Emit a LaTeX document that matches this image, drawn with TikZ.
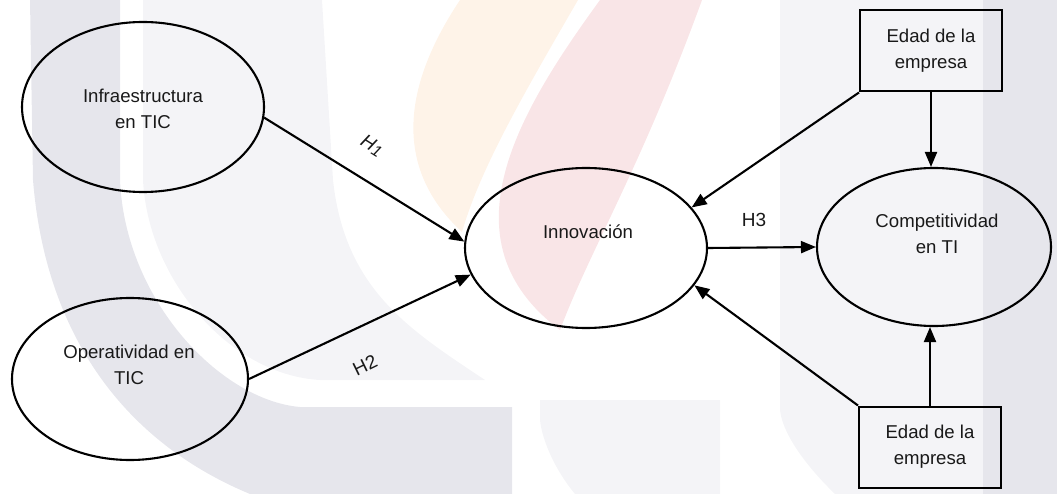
\documentclass[tikz,border=0pt]{standalone}
\usepackage{fontspec}
\setmainfont{Liberation Sans}
\usetikzlibrary{shapes.geometric,arrows.meta,calc}
\definecolor{wmdark}{HTML}{E6E6EC}
\definecolor{wmpale}{HTML}{F4F4F7}
\definecolor{wmorange}{HTML}{FEF3E8}
\definecolor{wmpink}{HTML}{F9E5E7}
\begin{document}
\begin{tikzpicture}[x=1pt,y=-1pt,
  txt/.style={font=\fontsize{18.6}{26}\selectfont, align=center, inner sep=0pt, text=black!90},
  ell/.style={ellipse, draw, line width=2.1pt, inner sep=0pt},
  boxn/.style={rectangle, draw, line width=2pt, txt, minimum width=142pt, minimum height=81pt},
  arr/.style={line width=2.1pt, -{Triangle[length=15pt,width=12pt]}},
  lab/.style={font=\fontsize{19}{21}\selectfont, inner sep=0pt, text=black!90}]
\useasboundingbox (0,0) rectangle (1057,494);
% watermark
\fill[wmpale] (143,0) -- (143,180) .. controls (148,280) and (230,375) .. (320,380) -- (485,380)
  .. controls (410,330) and (345,290) .. (333,180) -- (322,0) -- cycle;
\fill[wmdark] (30,0) -- (120,0) -- (120,180) .. controls (125,300) and (220,400) .. (300,407)
  -- (512,407) -- (512,494) -- (250,494) .. controls (120,440) and (45,330) .. (33,180) -- cycle;
\fill[wmorange] (460,0) .. controls (400,90) and (395,170) .. (462,232)
  .. controls (480,170) and (520,100) .. (578,0) -- cycle;
\fill[wmpink] (600,0) .. controls (520,110) and (440,240) .. (560,330)
  .. controls (590,250) and (640,170) .. (702,0) -- cycle;
\fill[wmpale] (540,400) -- (720,400) -- (720,494) -- (575,494) .. controls (555,470) and (542,440) .. (540,420) -- cycle;
\fill[wmpale] (780,0) -- (983,0) -- (983,494) -- (835,494) .. controls (800,460) and (782,430) .. (780,410) -- cycle;
\fill[wmdark] (983,0) rectangle (1057,494);
% nodes
\node[ell, minimum width=242pt, minimum height=170pt] (infra) at (143,107) {};
\node[txt] (infraT) at (143,109) {Infraestructura\\en TIC};
\node[ell, minimum width=236pt, minimum height=162pt] (oper) at (130,379) {};
\node[txt] (operT) at (129,365) {Operatividad en\\TIC};
\node[ell, minimum width=242pt, minimum height=160pt] (innov) at (586,248) {};
\node[txt] (innovT) at (588,232) {Innovación};
\node[ell, minimum width=234pt, minimum height=158pt] (comp) at (934,247) {};
\node[txt] (compT) at (937,234) {Competitividad\\en TI};
\node[boxn] (box1) at (931,51) {Edad de la\\empresa};
\node[boxn] (box2) at (930,447) {Edad de la\\empresa};
% connectors
\draw[arr] (infra.-5) -- (innov.177);
\draw[arr] (oper.east) -- (innov.-167);
\draw[arr] (innov.east) -- (comp.west);
\draw[arr] (box1.south west) -- (innov.21);
\draw[arr] (box2.north west) -- (innov.-19);
\draw[arr] (box1.south) -- (box1.south |- comp.north);
\draw[arr] (box2.north) -- (box2.north |- comp.south);
% labels
\node[lab, rotate=-32] (h1) at (372,146) {\itshape H\kern0.3pt\raisebox{-2pt}{\fontsize{16}{16}\selectfont 1}};
\node[lab, rotate=26] (h2) at (365,365) {H2};
\node[lab] (h3) at (754,220) {H3};
\end{tikzpicture}
\end{document}
